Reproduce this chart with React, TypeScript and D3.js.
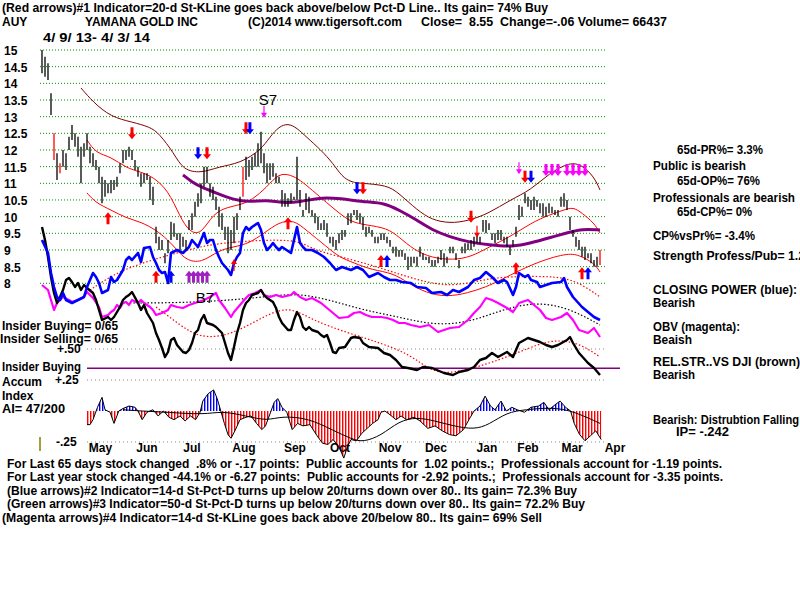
import React from 'react';
import * as d3 from 'd3';

// ---- data (AUY, 4/9/13 - 4/3/14) ----
// daily bars, day 0 = 4/9/13
const highs = [
  15.0, 14.8, 14.6, 13.7, 12.5, 11.9, 11.6, 12.0, 11.9, 12.4,
  12.75, 12.5, 12.4, 12.1, 12.2, 12.5, 12.1, 11.9, 11.7, 11.5,
  11.2, 11.1, 11.0, 11.1, 11.1, 11.2, 11.6, 12.0, 12.0, 12.1,
  12.0, 11.7, 11.5, 11.3, 11.3, 11.3, 11.2, 10.9, 9.7, 9.4,
  9.3, 8.9, 9.3, 9.85, 9.8, 9.5, 9.5, 9.4, 9.3, 9.9,
  10.1, 10.45, 10.7, 11.0, 11.5, 11.5, 11.0, 10.9, 10.6, 10.3,
  10.1, 9.7, 9.7, 9.6, 10.0, 10.1, 10.6, 11.5, 11.8, 11.7,
  11.8, 11.9, 12.2, 12.55, 11.9, 11.6, 11.6, 11.6, 11.3, 11.2,
  10.8, 10.7, 10.55, 10.7, 10.6, 11.8, 10.8, 10.2, 10.7, 10.6,
  10.2, 10.1, 10.0, 9.8, 9.9, 9.8, 9.4, 9.4, 9.3, 9.5,
  9.6, 9.6, 10.1, 10.1, 10.2, 10.2, 10.1, 10.0, 9.7, 9.7,
  9.6, 9.4, 9.4, 9.5, 9.5, 9.4, 9.3, 9.1, 9.1, 9.0,
  9.0, 8.9, 8.8, 8.8, 8.8, 8.8, 9.1, 8.9, 8.8, 8.8,
  8.7, 8.7, 8.8, 9.0, 8.9, 8.8, 9.1, 9.1, 8.9, 8.7,
  9.1, 9.2, 9.2, 9.3, 9.4, 9.5, 9.4, 9.9, 9.9, 9.8,
  9.5, 9.5, 9.6, 9.6, 9.4, 9.4, 9.1, 9.3, 9.7, 10.35,
  10.3, 10.7, 10.6, 10.5, 10.6, 10.5, 10.4, 10.4, 10.3, 10.4,
  10.3, 10.2, 10.2, 10.6, 10.7, 10.5, 10.0, 9.6, 9.4, 9.3,
  9.1, 9.1, 8.9, 8.9, 8.7, 8.8, 9.0,
];
const lows = [
  14.3, 14.2, 14.1, 13.05, 11.7, 11.1, 11.3, 11.5, 11.4, 12.0,
  12.3, 12.1, 11.8, 11.0, 11.8, 12.0, 11.6, 11.5, 11.4, 11.0,
  10.4, 10.6, 10.7, 10.7, 10.8, 10.9, 11.3, 11.6, 11.7, 11.8,
  11.7, 11.4, 11.2, 10.9, 11.0, 11.1, 10.5, 10.35, 9.2, 9.0,
  9.0, 8.6, 8.9, 9.3, 9.4, 9.3, 9.0, 9.1, 9.0, 9.6,
  9.6, 10.0, 10.3, 10.4, 10.9, 11.0, 10.6, 10.5, 10.2, 9.7,
  9.6, 9.3, 8.9, 9.0, 9.2, 9.6, 10.2, 10.6, 11.1, 11.2,
  11.4, 11.5, 11.5, 11.6, 11.3, 11.0, 11.1, 11.2, 11.0, 11.0,
  10.3, 10.3, 10.3, 10.4, 10.5, 10.5, 10.3, 10.0, 10.2, 10.1,
  10.0, 9.8, 9.6, 9.6, 9.6, 9.4, 9.2, 9.1, 9.0, 9.2,
  9.3, 9.4, 9.75, 9.8, 10.05, 9.9, 9.8, 9.6, 9.4, 9.5,
  9.4, 9.2, 9.2, 9.3, 9.3, 9.2, 9.1, 8.9, 8.8, 8.8,
  8.8, 8.7, 8.4, 8.5, 8.6, 8.5, 8.8, 8.7, 8.7, 8.6,
  8.5, 8.5, 8.6, 8.7, 8.5, 8.6, 8.9, 8.9, 8.7, 8.45,
  8.9, 8.9, 9.0, 9.0, 9.1, 9.2, 9.2, 9.55, 9.5, 9.6,
  9.3, 9.2, 9.3, 9.3, 9.2, 9.1, 8.85, 9.1, 9.4, 9.9,
  10.0, 10.4, 10.3, 10.2, 10.2, 10.3, 10.1, 10.0, 10.0, 10.1,
  10.1, 10.05, 10.0, 10.3, 10.3, 10.2, 9.6, 9.4, 9.1, 9.0,
  8.8, 8.7, 8.75, 8.6, 8.5, 8.5, 8.55,
];
const redBars = [4, 6, 67, 186];

type Pt = [number, number];

// price overlays [day, price]
const upperBand: Pt[] = [
  [13, 13.86], [17, 13.44], [23, 12.99], [30, 12.84], [36, 12.69], [39, 12.5], [44, 11.9],
  [47, 11.4], [53, 11.3], [59, 11.5], [66, 11.6], [73, 12.0], [76, 12.4], [79, 12.7],
  [82, 12.8], [85, 12.66], [88, 12.4], [93, 12.0], [97, 11.6], [100, 11.2], [103, 11.04],
  [106, 11.0], [115, 10.95], [119, 10.7], [125, 10.2], [130, 9.9], [136, 9.8], [142, 9.87],
  [149, 10.1], [156, 10.5], [163, 10.8], [169, 11.3], [176, 11.64], [180, 11.55],
  [184, 11.2], [186, 10.8],
];
const redUpper: Pt[] = [
  [15, 12.3], [18, 11.9], [23, 11.8], [28, 11.46], [33, 11.34], [37, 11.19], [42, 10.8],
  [46, 10.0], [49, 9.55], [53, 9.45], [57, 10.1], [62, 10.29], [66, 10.35], [70, 10.5],
  [75, 10.89], [79, 11.31], [83, 11.25], [86, 11.1], [90, 10.8], [95, 10.41], [99, 10.11],
  [103, 9.84], [108, 9.75], [115, 9.66], [119, 9.39], [124, 9.0], [130, 8.76], [137, 8.7],
  [143, 8.79], [149, 9.09], [156, 9.39], [163, 9.81], [169, 10.05], [174, 10.2],
  [177, 10.29], [180, 10.11], [184, 9.81], [186, 9.51],
];
const redLower: Pt[] = [
  [15, 10.71], [18, 10.41], [23, 10.2], [28, 9.96], [33, 9.84], [38, 9.6], [42, 9.3],
  [45, 9.0], [48, 8.7], [53, 8.6], [59, 9.0], [64, 9.09], [69, 9.2], [74, 9.5], [79, 9.84],
  [84, 9.9], [88, 9.6], [95, 9.09], [99, 8.79], [104, 8.61], [110, 8.4], [117, 8.31],
  [122, 8.01], [128, 7.71], [135, 7.59], [142, 7.71], [148, 7.89], [153, 8.1], [164, 8.61],
  [175, 8.91], [179, 8.85], [184, 8.61], [186, 8.34],
];
const purpleMA: Pt[] = [
  [47, 11.25], [50, 11.04], [53, 10.89], [58, 10.71], [64, 10.5], [69, 10.44], [75, 10.5],
  [80, 10.41], [86, 10.44], [92, 10.56], [97, 10.56], [103, 10.5], [108, 10.44], [114, 10.41],
  [119, 10.2], [125, 9.9], [130, 9.6], [136, 9.39], [142, 9.24], [149, 9.15], [157, 9.09],
  [163, 9.21], [169, 9.36], [176, 9.54], [180, 9.63], [186, 9.6],
];

// lower indicators [day, level] (arbitrary units)
const closingPower: Pt[] = [
  [0, 140], [2, 127], [3, 107], [4, 93], [5, 83], [6, 80], [7, 87], [8, 80], [10, 77], [12, 80],
  [14, 83], [15, 93], [17, 107], [18, 103], [19, 97], [20, 87], [22, 90], [23, 103], [24, 98],
  [25, 100], [27, 110], [28, 120], [29, 123], [30, 120], [32, 127], [33, 118], [34, 132],
  [36, 133], [37, 123], [38, 117], [39, 110], [40, 107], [41, 108], [42, 97], [43, 127],
  [45, 130], [47, 127], [49, 133], [50, 140], [52, 133], [53, 140], [54, 147], [55, 137],
  [56, 140], [57, 140], [58, 130], [59, 123], [60, 117], [62, 110], [63, 105], [64, 117],
  [65, 123], [66, 127], [67, 147], [68, 153], [69, 150], [70, 153], [72, 157], [73, 150],
  [74, 137], [75, 130], [76, 133], [77, 137], [78, 133], [79, 130], [80, 133], [83, 127],
  [84, 140], [85, 153], [86, 137], [87, 133], [88, 130], [90, 130], [92, 127], [94, 123],
  [96, 117], [98, 110], [100, 113], [103, 110], [105, 113], [107, 110], [109, 103], [112, 107],
  [114, 103], [116, 100], [118, 100], [120, 98], [123, 97], [125, 93], [128, 92], [130, 87],
  [133, 88], [135, 85], [137, 90], [139, 88], [142, 93], [144, 100], [146, 102], [148, 108],
  [150, 103], [152, 97], [154, 100], [155, 98], [157, 85], [158, 93], [159, 107], [161, 103],
  [162, 105], [163, 100], [165, 98], [166, 93], [168, 95], [170, 97], [173, 98], [174, 102],
  [175, 93], [177, 83], [180, 73], [182, 68], [184, 63], [186, 60],
];
const obv: Pt[] = [
  [0, 95], [2, 90], [3, 80], [4, 70], [5, 77], [6, 80], [7, 83], [9, 80], [10, 78], [12, 80],
  [14, 83], [15, 88], [17, 82], [19, 73], [20, 63], [22, 65], [23, 68], [24, 70], [25, 75],
  [26, 72], [27, 77], [28, 78], [29, 75], [30, 80], [32, 77], [33, 80], [34, 77], [36, 73],
  [37, 70], [38, 65], [40, 67], [42, 70], [43, 75], [45, 73], [47, 72], [49, 75], [52, 78],
  [54, 80], [56, 83], [58, 87], [59, 80], [61, 72], [63, 63], [64, 68], [66, 75], [68, 82],
  [69, 85], [71, 87], [73, 90], [74, 85], [76, 83], [78, 85], [80, 83], [83, 85], [84, 88],
  [86, 83], [88, 80], [90, 82], [93, 77], [95, 72], [97, 67], [99, 62], [102, 63], [104, 67],
  [106, 68], [108, 65], [110, 63], [113, 63], [115, 62], [117, 60], [119, 57], [121, 57],
  [123, 55], [126, 53], [129, 55], [132, 48], [136, 52], [139, 53], [142, 60], [144, 67],
  [146, 73], [148, 82], [150, 80], [152, 77], [155, 72], [157, 68], [159, 77], [162, 80],
  [164, 75], [166, 70], [168, 62], [170, 60], [173, 63], [175, 67], [177, 60], [179, 50],
  [182, 47], [184, 52], [186, 43],
];
const relStrength: Pt[] = [
  [0, 153], [1, 140], [2, 123], [3, 103], [4, 87], [5, 77], [6, 83], [7, 90], [8, 100],
  [9, 102], [10, 98], [11, 93], [12, 97], [13, 90], [14, 95], [15, 92], [17, 87], [18, 80],
  [19, 70], [20, 60], [22, 63], [23, 60], [24, 63], [25, 68], [26, 73], [27, 80], [28, 83],
  [29, 85], [30, 88], [32, 77], [33, 70], [34, 75], [35, 67], [37, 57], [38, 47], [39, 40],
  [40, 32], [41, 23], [42, 28], [43, 40], [44, 42], [45, 35], [47, 28], [48, 27], [49, 30],
  [50, 37], [51, 47], [52, 50], [53, 60], [54, 65], [55, 57], [57, 55], [58, 53], [59, 50],
  [60, 47], [61, 37], [62, 27], [63, 20], [64, 33], [65, 47], [66, 57], [67, 70], [68, 77],
  [69, 80], [70, 85], [72, 87], [73, 90], [74, 85], [75, 82], [76, 80], [77, 78], [78, 72],
  [79, 63], [80, 57], [82, 50], [83, 50], [84, 60], [85, 68], [86, 63], [87, 53], [88, 50],
  [89, 53], [90, 50], [92, 48], [93, 45], [94, 43], [95, 45], [96, 37], [97, 28], [98, 27],
  [99, 32], [101, 33], [103, 42], [104, 43], [106, 42], [107, 37], [109, 33], [112, 32],
  [114, 27], [116, 25], [118, 20], [120, 13], [122, 12], [125, 10], [127, 13], [130, 12],
  [134, 7], [137, 5], [139, 8], [142, 10], [144, 13], [146, 20], [148, 22], [150, 27],
  [152, 23], [155, 28], [157, 23], [158, 30], [159, 37], [162, 42], [164, 40], [166, 38],
  [168, 35], [170, 33], [172, 35], [175, 40], [176, 43], [177, 37], [179, 27], [182, 17],
  [184, 12], [186, 5],
];
const cpAverage: Pt[] = [
  [16, 90], [26, 110], [40, 123], [52, 133], [60, 137], [73, 140], [86, 140], [90, 130],
  [104, 120], [115, 110], [125, 100], [136, 93], [147, 100], [153, 103], [166, 104],
  [177, 102], [186, 83],
];
const obvAverage: Pt[] = [
  [27, 77], [39, 77], [52, 78], [63, 80], [74, 83], [85, 87], [96, 80], [107, 70], [119, 63],
  [130, 55], [142, 57], [153, 70], [164, 78], [175, 73], [186, 55],
];
const rsAverage: Pt[] = [
  [38, 73], [46, 55], [52, 43], [60, 43], [68, 53], [76, 67], [83, 73], [90, 60], [102, 47],
  [113, 37], [123, 25], [129, 10], [136, 5], [153, 20], [166, 37], [172, 40], [179, 37],
  [186, 23],
];

// Accumulation Index [day, value]
const accumIndex: Pt[] = [
  [15, -0.11], [16, -0.11], [17, -0.07], [18.5, 0.03], [20, 0.11], [21, 0.01], [22.7, -0.01],
  [24, -0.1], [25.6, 0], [27, 0.02], [29, 0.04], [31, 0.03], [32, 0], [33.4, -0.07],
  [35, -0.01], [37, 0.01], [38.7, -0.04], [40.5, 0], [42.3, -0.05], [44, -0.07], [46, -0.04],
  [47.7, -0.08], [49.5, -0.04], [51.2, -0.07], [52.7, -0.01], [53.6, 0.08], [55.4, 0.14],
  [57.2, 0.17], [58.4, 0.1], [59.6, 0], [60.8, -0.1], [62, -0.19], [63, -0.22], [64.3, -0.16],
  [66, -0.07], [68, -0.05], [69.7, -0.04], [71.5, -0.1], [73.3, -0.15], [74.5, -0.12],
  [76.2, -0.01], [77.4, 0.07], [78.6, 0.1], [80, 0.03], [81.6, -0.01], [83.4, -0.15],
  [85.2, -0.1], [87, -0.12], [89.3, -0.11], [91.7, -0.2], [93.5, -0.26], [95.3, -0.27],
  [97, -0.23], [99, -0.29], [100.6, -0.38], [101.8, -0.29], [103, -0.23], [104.8, -0.24],
  [106.6, -0.18], [108.4, -0.14], [110.2, -0.1], [112, -0.07], [113, -0.01], [114.3, 0],
  [116, -0.03], [118, -0.07], [119.7, -0.04], [121.5, -0.07], [124, -0.05], [126, -0.08],
  [128.6, -0.14], [131, -0.12], [133.4, -0.16], [135.8, -0.19], [138, -0.2], [140.5, -0.15],
  [142.3, -0.07], [144, 0], [146, 0.04], [147.7, 0.12], [149.5, 0.04], [151, 0.01],
  [153, 0.08], [154.8, 0], [156.6, 0.03], [158.4, 0.01], [160.8, -0.01], [163, 0.03],
  [165.5, 0.04], [167.3, 0.07], [169, 0.01], [171, 0.05], [172.7, 0.08], [174.5, 0.03],
  [176.2, 0], [177.4, -0.1], [179.2, -0.19], [181, -0.24], [182.8, -0.2], [184.6, -0.16],
  [186.4, -0.23],
];
const accumAverage: Pt[] = [
  [27, 0.01], [33, 0.0], [42, -0.01], [54, -0.03], [60, 0], [68, -0.04], [75, -0.08],
  [80, -0.04], [89, -0.06], [96.5, -0.15], [103.6, -0.23], [107, -0.25], [113, -0.2],
  [119, -0.08], [125, -0.05], [131, -0.08], [137, -0.12], [144, -0.15], [149, -0.11],
  [155, -0.01], [161, 0.01], [170, 0.03], [177, 0], [186, -0.1],
];
const insiderLevel = 0.345;

const priceTicks = [15, 14.5, 14, 13.5, 13, 12.5, 12, 11.5, 11, 10.5, 10, 9.5, 9, 8.5, 8];
const aiTicks = [0.5, 0.25, -0.25];
const months = ['May', 'Jun', 'Jul', 'Aug', 'Sep', 'Oct', 'Nov', 'Dec', 'Jan', 'Feb', 'Mar', 'Apr'];
const monthDays = [19.5, 35, 50, 67.3, 84.3, 99.3, 116, 131.3, 148.3, 162, 176.7, 191];

type Arrow = { d: number; p: number; dir: 'up' | 'down'; c: string; thin?: boolean };
const arrows: Arrow[] = [
  { d: 30, p: 12.5, dir: 'down', c: '#ff0000' },
  { d: 52, p: 11.9, dir: 'down', c: '#0000ff' },
  { d: 55, p: 11.9, dir: 'down', c: '#ff0000' },
  { d: 68, p: 12.65, dir: 'down', c: '#ff0000' },
  { d: 69.3, p: 12.65, dir: 'down', c: '#0000ff' },
  { d: 74, p: 13.15, dir: 'down', c: '#ff00ff', thin: true },
  { d: 82, p: 9.8, dir: 'up', c: '#ff0000' },
  { d: 105, p: 10.85, dir: 'down', c: '#0000ff' },
  { d: 107, p: 10.85, dir: 'down', c: '#ff0000' },
  { d: 113, p: 8.67, dir: 'up', c: '#ff0000' },
  { d: 115, p: 8.67, dir: 'up', c: '#0000ff' },
  { d: 143, p: 10.0, dir: 'down', c: '#ff0000' },
  { d: 145, p: 9.55, dir: 'down', c: '#ff0000', thin: true },
  { d: 159, p: 11.45, dir: 'down', c: '#ff00ff', thin: true },
  { d: 161, p: 11.2, dir: 'down', c: '#ff0000' },
  { d: 163, p: 11.2, dir: 'down', c: '#0000ff' },
  { d: 168, p: 11.4, dir: 'down', c: '#ff00ff' },
  { d: 170, p: 11.4, dir: 'down', c: '#ff00ff' },
  { d: 172, p: 11.4, dir: 'down', c: '#ff00ff' },
  { d: 175, p: 11.4, dir: 'down', c: '#ff00ff' },
  { d: 177, p: 11.4, dir: 'down', c: '#ff00ff' },
  { d: 179, p: 11.4, dir: 'down', c: '#ff00ff' },
  { d: 181, p: 11.4, dir: 'down', c: '#ff00ff' },
  { d: 158, p: 8.45, dir: 'up', c: '#ff0000' },
  { d: 180, p: 8.3, dir: 'up', c: '#ff0000' },
  { d: 182, p: 8.3, dir: 'up', c: '#0000ff' },
  { d: 38, p: 8.2, dir: 'up', c: '#ff0000' },
  { d: 43, p: 8.2, dir: 'up', c: '#0000ff' },
  { d: 49, p: 8.2, dir: 'up', c: '#a020c0' },
  { d: 50.5, p: 8.2, dir: 'up', c: '#a020c0' },
  { d: 52, p: 8.2, dir: 'up', c: '#a020c0' },
  { d: 53.5, p: 8.2, dir: 'up', c: '#a020c0' },
  { d: 55, p: 8.2, dir: 'up', c: '#a020c0' },
  { d: 22, p: 9.95, dir: 'up', c: '#ff0000' },
  { d: 64, p: 8.55, dir: 'up', c: '#ff0000', thin: true },
];

const FONT = "'Liberation Sans', Arial, sans-serif";

const T: React.FC<{
  x: number; y: number; text: string; len?: number; size?: number; bold?: boolean;
  anchor?: 'start' | 'middle' | 'end'; fill?: string;
}> = ({ x, y, text, len, size = 12, bold = true, anchor = 'start', fill = '#000' }) => (
  <text
    x={x}
    y={y}
    fontFamily={FONT}
    fontSize={size}
    fontWeight={bold ? 'bold' : 'normal'}
    textAnchor={anchor}
    fill={fill}
    style={{ whiteSpace: 'pre' }}
    {...(len ? { textLength: len, lengthAdjust: 'spacingAndGlyphs' } : {})}
  >
    {text}
  </text>
);

export default function App() {
  const x = d3.scaleLinear().domain([0, 186]).range([42, 600]);
  const yP = d3.scaleLinear().domain([8, 15]).range([283.3, 50]);
  const yI = d3.scaleLinear().domain([0, 160]).range([380, 220]);
  const yA = d3.scaleLinear().domain([-0.25, 0.5]).range([442, 349]);

  const priceCurve = d3.line<Pt>().x((d) => x(d[0])).y((d) => yP(d[1])).curve(d3.curveBasis);
  const indLine = d3.line<Pt>().x((d) => x(d[0])).y((d) => yI(d[1]));
  const indCurve = d3.line<Pt>().x((d) => x(d[0])).y((d) => yI(d[1])).curve(d3.curveBasis);
  const aiLine = d3.line<Pt>().x((d) => x(d[0])).y((d) => yA(d[1]));
  const aiCurve = d3.line<Pt>().x((d) => x(d[0])).y((d) => yA(d[1])).curve(d3.curveBasis);
  const aiArea = d3.area<Pt>().x((d) => x(d[0])).y0(yA(0)).y1((d) => yA(d[1]));

  const zeroY = yA(0);

  const arrowPath = (a: Arrow) => {
    const cx = x(a.d);
    const cy = yP(a.p);
    const s = a.dir === 'down' ? 1 : -1;
    const sw = a.thin ? 0.6 : 1.5;
    const hw = a.thin ? 3 : 4;
    const top = cy - 6 * s;
    const neck = cy + 1 * s;
    const tip = cy + 6 * s;
    return `M${cx - sw},${top}L${cx + sw},${top}L${cx + sw},${neck}L${cx + hw},${neck}L${cx},${tip}L${cx - hw},${neck}L${cx - sw},${neck}Z`;
  };

  return (
    <svg
      width={800}
      height={600}
      viewBox="0 0 800 600"
      style={{ position: 'absolute', left: 0, top: 0, background: '#fff', display: 'block' }}
    >
      <defs>
        <pattern id="redStripe" width="3" height="8" patternUnits="userSpaceOnUse">
          <rect x="0" y="0" width="1.4" height="8" fill="#ff0000" />
        </pattern>
        <pattern id="blueStripe" width="3" height="8" patternUnits="userSpaceOnUse">
          <rect x="0" y="0" width="1.4" height="8" fill="#0000ff" />
        </pattern>
        <clipPath id="aiPos">
          <rect x="0" y="300" width="800" height={zeroY - 300} />
        </clipPath>
        <clipPath id="aiNeg">
          <rect x="0" y={zeroY} width="800" height={480 - zeroY} />
        </clipPath>
      </defs>
      <rect width={800} height={600} fill="#fff" />

      {/* header */}
      <T x={2} y={12} len={546} text="(Red arrows)#1 Indicator=20-d St-KLine goes back above/below Pct-D Line.. Its gain= 74% Buy" />
      <T x={2} y={26} text="AUY" />
      <T x={85} y={26} len={113} text="YAMANA GOLD INC" />
      <T x={248} y={26} len={154} text="(C)2014 www.tigersoft.com" />
      <T x={421} y={26} len={246} text="Close=  8.55  Change=-.06 Volume= 66437" />
      <T x={43} y={42} len={107} text="4/ 9/ 13- 4/ 3/ 14" />

      {/* price grid */}
      {priceTicks.map((t) => (
        <g key={t}>
          <line x1={40} x2={605} y1={yP(t)} y2={yP(t)} stroke="#009000" strokeWidth={1} strokeDasharray="1 2" />
          <T x={4} y={yP(t) + 5} text={String(t)} />
        </g>
      ))}

      {/* AI panel guide lines */}
      {aiTicks.map((t) => (
        <line key={t} x1={87} x2={605} y1={yA(t)} y2={yA(t)} stroke="#888" strokeWidth={1} strokeDasharray="1 3" />
      ))}

      {/* left panel labels (lines are drawn over them) */}
      <T x={2} y={330} len={116} text="Insider Buying= 0/65" />
      <T x={0} y={343} len={118} text="Insider Selling= 0/65" />
      <T x={57} y={353} text="+.50" />
      <T x={2} y={371} len={79} text="Insider Buying" />
      <T x={2} y={386} text="Accum" />
      <T x={55} y={384} text="+.25" />
      <T x={2} y={400} text="Index" />
      <T x={2} y={413} len={63} text="AI= 47/200" />
      <T x={56} y={446} text="-.25" />
      <line x1={40} x2={40} y1={437} y2={451} stroke="#808000" strokeWidth={1.5} />

      {/* insider line */}
      <line x1={87} x2={620} y1={yA(insiderLevel)} y2={yA(insiderLevel)} stroke="#800080" strokeWidth={1.5} />

      {/* accumulation index histogram */}
      <path d={aiArea(accumIndex) || ''} fill="url(#blueStripe)" clipPath="url(#aiPos)" />
      <path d={aiArea(accumIndex) || ''} fill="url(#redStripe)" clipPath="url(#aiNeg)" />
      <path d={aiLine(accumIndex) || ''} fill="none" stroke="#000" strokeWidth={1} />
      <path d={aiCurve(accumAverage) || ''} fill="none" stroke="#000" strokeWidth={1} />

      {/* indicator averages */}
      <path d={indCurve(cpAverage) || ''} fill="none" stroke="#ff0000" strokeWidth={1.2} strokeDasharray="1.5 2" />
      <path d={indCurve(obvAverage) || ''} fill="none" stroke="#000" strokeWidth={1.2} strokeDasharray="1.5 2" />
      <path d={indCurve(rsAverage) || ''} fill="none" stroke="#ff0000" strokeWidth={1.2} strokeDasharray="1.5 2" />

      {/* price bands */}
      <path d={priceCurve(upperBand) || ''} fill="none" stroke="#800000" strokeWidth={1} />
      <path d={priceCurve(redUpper) || ''} fill="none" stroke="#ff0000" strokeWidth={1} />
      <path d={priceCurve(redLower) || ''} fill="none" stroke="#ff0000" strokeWidth={1} />
      <path d={priceCurve(purpleMA) || ''} fill="none" stroke="#800080" strokeWidth={3} />

      {/* indicators */}
      <path d={indLine(obv) || ''} fill="none" stroke="#ff00ff" strokeWidth={2.2} strokeLinejoin="round" />
      <path d={indLine(relStrength) || ''} fill="none" stroke="#000" strokeWidth={2.4} strokeLinejoin="round" />
      <path d={indLine(closingPower) || ''} fill="none" stroke="#0000ff" strokeWidth={2.6} strokeLinejoin="round" />

      {/* price bars */}
      {highs.map((h, i) => (
        <line
          key={i}
          x1={x(i)}
          x2={x(i)}
          y1={yP(h)}
          y2={yP(lows[i])}
          stroke={redBars.includes(i) ? '#ff0000' : '#000'}
          strokeWidth={1.3}
        />
      ))}

      {/* signal arrows */}
      {arrows.map((a, i) => (
        <path key={i} d={arrowPath(a)} fill={a.c} />
      ))}
      <T x={268} y={105} text="S7" size={15} bold={false} anchor="middle" />
      <T x={205} y={303} text="B7" size={15} bold={false} anchor="middle" />

      {/* month labels */}
      {months.map((m, i) => (
        <T key={m} x={x(monthDays[i])} y={452} text={m} anchor="middle" />
      ))}

      {/* right side notes */}
      <T x={677} y={154} len={86} text="65d-PR%= 3.3%" />
      <T x={653} y={170} len={93} text="Public is bearish" />
      <T x={677} y={185} len={83} text="65d-OP%= 76%" />
      <T x={653} y={202} len={142} text="Professionals are bearish" />
      <T x={677} y={216} len={75} text="65d-CP%= 0%" />
      <T x={653} y={240} len={102} text="CP%vsPr%= -3.4%" />
      <T x={653} y={260} len={152} text="Strength Profess/Pub= 1.2" />
      <T x={653} y={294} len={144} text="CLOSING POWER (blue):" />
      <T x={653} y={307} len={42} text="Bearish" />
      <T x={653} y={331} len={87} text="OBV (magenta):" />
      <T x={653} y={344} len={39} text="Beaish" />
      <T x={653} y={366} len={147} text="REL.STR..VS DJI (brown)" />
      <T x={653} y={379} len={42} text="Bearish" />
      <T x={653} y={424} len={146} text="Bearish: Distrubtion Falling" />
      <T x={676} y={436} len={53} text="IP= -.242" />

      {/* bottom notes */}
      <T x={7} y={468} len={715} text="For Last 65 days stock changed  .8% or -.17 points:  Public accounts for  1.02 points.;  Professionals account for -1.19 points." />
      <T x={7} y={481} len={716} text="For Last year stock changed -44.1% or -6.27 points:  Public accounts for -2.92 points.;  Professionals account for -3.35 points." />
      <T x={7} y={495} len={570} text="(Blue arrows)#2 Indicator=14-d St-Pct-D turns up below 20/turns down over 80.. Its gain= 72.3% Buy" />
      <T x={7} y={508} len={578} text="(Green arrows)#3 Indicator=50-d St-Pct-D turns up below 20/turns down over 80.. Its gain= 72.2% Buy" />
      <T x={2} y={522} len={540} text="(Magenta arrows)#4 Indicator=14-d St-KLine goes back above 20/below 80.. Its gain= 69% Sell" />
    </svg>
  );
}
